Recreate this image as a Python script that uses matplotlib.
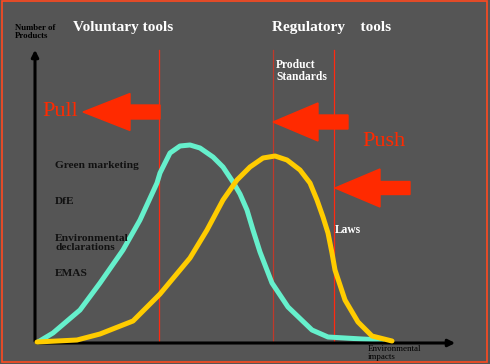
import numpy as np
import matplotlib.pyplot as plt
from matplotlib.patches import Polygon, Rectangle

# curves (x = environmental impact, y = number of products)
cyan_x = [3, 18, 45, 65, 88, 105, 122, 125, 135, 145, 155, 165, 178, 188, 198,
          205, 212, 218, 225, 237, 253, 277, 293, 327, 347]
cyan_y = [1, 10, 33, 60, 93, 123, 160, 170, 190, 197, 198, 195, 186, 176, 161,
          149, 133, 113, 91, 60, 36, 13, 6, 4, 3]
gold_x = [2, 42, 65, 98, 125, 145, 155, 172, 188, 202, 215, 228, 240, 252, 265,
          275, 282, 288, 293, 297, 300, 310, 323, 337, 357]
gold_y = [1, 3, 9, 22, 49, 73, 85, 113, 143, 163, 176, 185, 187, 183, 173,
          160, 143, 126, 110, 90, 73, 43, 21, 7, 2]

tool_lines = [124, 238, 299]
tool_colors = ['#ff2a10', '#c0392b', '#ff2a10']
tool_labels = ['Green marketing', 'DfE', 'Environmental\ndeclarations', 'EMAS']
tool_label_y = [177, 142, 100, 69]

bg = '#555555'
serif = ['Liberation Serif', 'DejaVu Serif']

fig = plt.figure(figsize=(4.9, 3.64), dpi=100, facecolor=bg)
ax = fig.add_axes([0, 0, 1, 1])
ax.set_facecolor(bg)
ax.set_xlim(-35, 455)
ax.set_ylim(-21, 343)
ax.axis('off')

# frame of the slide
ax.add_patch(Rectangle((-33, -19), 485, 361, fill=False, edgecolor='#ff4a20', lw=1.2))

# vertical separators
for xv, c in zip(tool_lines, tool_colors):
    ax.plot([xv, xv], [0, 293], color=c, lw=0.9)

# curves
ax.plot(cyan_x, cyan_y, color='#66f0cc', lw=3.6, solid_capstyle='round', zorder=3)
ax.plot(gold_x, gold_y, color='#ffcc00', lw=3.6, solid_capstyle='round', zorder=4)

# axes arrows
ax.annotate('', xy=(0, 296), xytext=(0, -1),
            arrowprops=dict(arrowstyle='-|>', color='black', lw=2.2, mutation_scale=10))
ax.annotate('', xy=(423, 0), xytext=(-1, 0),
            arrowprops=dict(arrowstyle='-|>', color='black', lw=2.2, mutation_scale=10))

# big red arrows
def red_arrow(tip_x, tip_y, head_len, head_h, shaft_len, shaft_h):
    hx = tip_x + head_len
    ex = hx + shaft_len
    pts = [(tip_x, tip_y), (hx, tip_y + head_h / 2), (hx, tip_y + shaft_h / 2),
           (ex, tip_y + shaft_h / 2), (ex, tip_y - shaft_h / 2),
           (hx, tip_y - shaft_h / 2), (hx, tip_y - head_h / 2)]
    ax.add_patch(Polygon(pts, closed=True, color='#ff2a00', zorder=5))

red_arrow(48, 231, 47, 37, 30, 14)
red_arrow(238, 221, 45, 38, 30, 14)
red_arrow(300, 155, 45, 38, 30, 13)

# texts
ax.text(-20, 311, 'Number of\nProducts', fontsize=6.3, fontweight='bold', family=serif,
        color='black', va='center', ha='left', linespacing=1.05)
ax.text(38, 316, 'Voluntary tools', fontsize=11, fontweight='bold', family=serif,
        color='white', va='center', ha='left')
ax.text(237, 316, 'Regulatory    tools', fontsize=11, fontweight='bold', family=serif,
        color='white', va='center', ha='left')
ax.text(241, 272, 'Product\nStandards', fontsize=8.3, fontweight='bold', family=serif,
        color='white', va='center', ha='left', linespacing=1.0)
ax.text(7, 231, 'Pull', fontsize=16, family=serif, color='#ff2a00',
        va='center', ha='left')
ax.text(327, 201, 'Push', fontsize=16, family=serif, color='#ff2a00',
        va='center', ha='left')
for lab, yv in zip(tool_labels, tool_label_y):
    ax.text(20, yv, lab, fontsize=8.2, fontweight='bold', family=serif,
            color='#111111', va='center', ha='left', linespacing=1.0)
ax.text(300, 113, 'Laws', fontsize=8.3, fontweight='bold', family=serif,
        color='white', va='center', ha='left')
ax.text(333, -2, 'Environmental\nimpacts', fontsize=6.5, family=serif,
        color='black', va='top', ha='left', linespacing=0.95)

fig.savefig('out.png', dpi=100, facecolor=bg)
